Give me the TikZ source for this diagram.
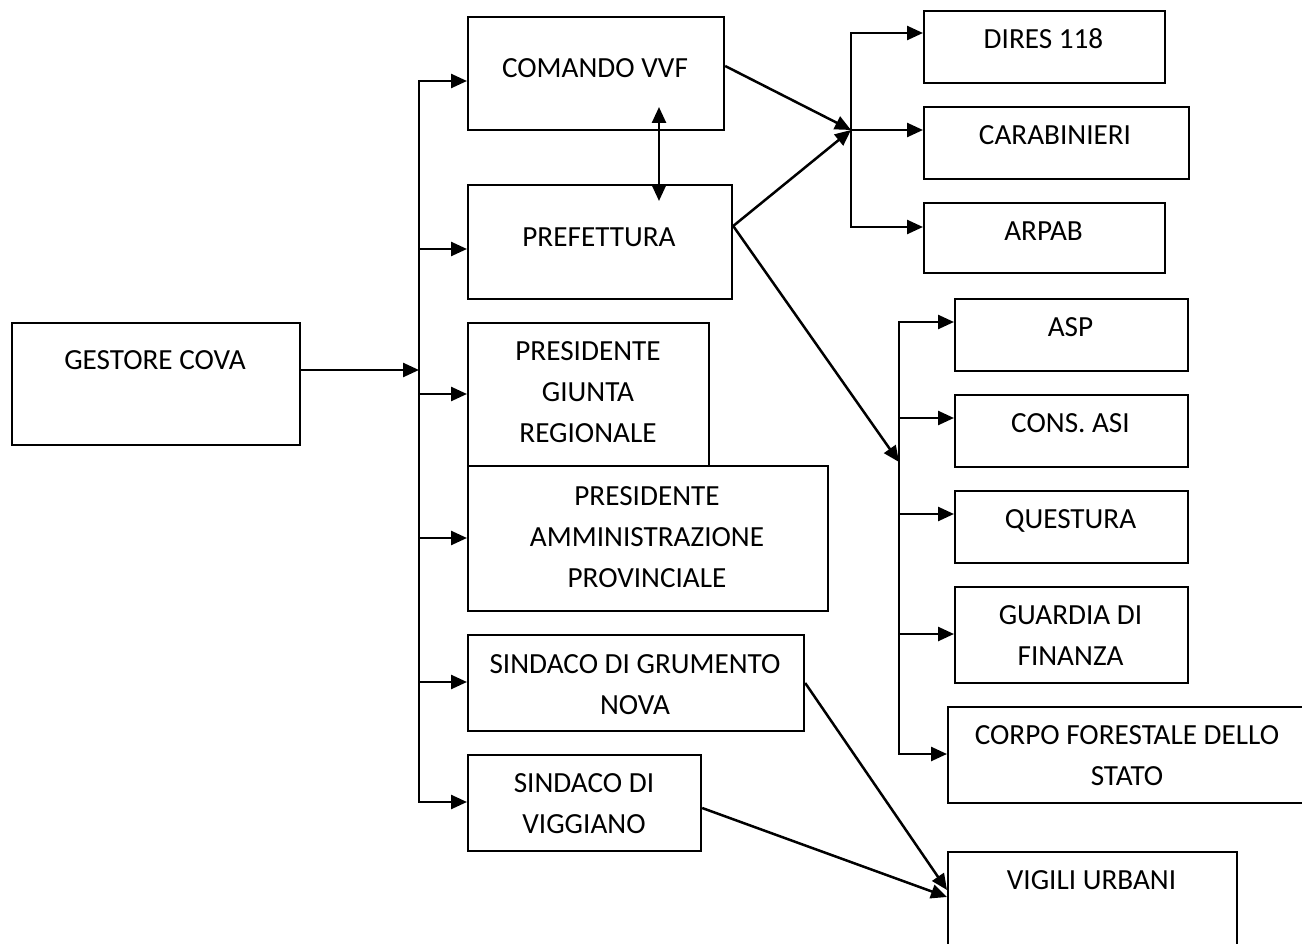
\documentclass[tikz,border=0pt]{standalone}
\usepackage{fontspec}
\setmainfont{Carlito}
\usetikzlibrary{arrows.meta,calc}
\begin{document}
\begin{tikzpicture}[x=1pt,y=-1pt,
  box/.style={draw,line width=2.2pt,inner sep=0pt,anchor=north west},
  lbl/.style={font=\fontsize{29.2pt}{40.8pt}\selectfont,align=center,inner sep=0pt,anchor=base},
  conn/.style={line width=2.5pt,line cap=rect},
  arr/.style={line width=2.5pt,-{Triangle[length=16pt,width=14pt]}},
  darr/.style={line width=2.5pt,{Triangle[length=16pt,width=14pt]}-{Triangle[length=16pt,width=14pt]}}]
\path[use as bounding box] (0,0) rectangle (1302,944);
\begin{scope}
\clip (0,0) rectangle (1302,944);
% boxes
\node[box,minimum width=288pt,minimum height=122pt] (gestore) at (11,322) {};
\node[box,minimum width=256pt,minimum height=113pt] (comando) at (467,16) {};
\node[box,minimum width=264pt,minimum height=114pt] (prefettura) at (467,184) {};
\node[box,minimum width=241pt,minimum height=143pt] (giunta) at (467,322) {};
\node[box,minimum width=360pt,minimum height=145pt] (provinciale) at (467,465) {};
\node[box,minimum width=336pt,minimum height=96pt] (grumento) at (467,634) {};
\node[box,minimum width=233pt,minimum height=96pt] (viggiano) at (467,754) {};
\node[box,minimum width=241pt,minimum height=72pt] (dires) at (923,10) {};
\node[box,minimum width=265pt,minimum height=72pt] (carabinieri) at (923,106) {};
\node[box,minimum width=241pt,minimum height=70pt] (arpab) at (923,202) {};
\node[box,minimum width=233pt,minimum height=72pt] (asp) at (954,298) {};
\node[box,minimum width=233pt,minimum height=72pt] (consasi) at (954,394) {};
\node[box,minimum width=233pt,minimum height=72pt] (questura) at (954,490) {};
\node[box,minimum width=233pt,minimum height=96pt] (guardia) at (954,586) {};
\node[box,minimum width=360pt,minimum height=96pt] (corpo) at (947,706) {};
\node[box,minimum width=289pt,minimum height=130pt] (vigili) at (947,851) {};
% labels (anchor = baseline of the last line)
\node[lbl] (gestore-t) at (155,369) {GESTORE COVA};
\node[lbl] (comando-t) at (595,78) {COMANDO VVF};
\node[lbl] (prefettura-t) at (599,247) {PREFETTURA};
\node[lbl] (giunta-t) at (588,442.5) {PRESIDENTE\\GIUNTA\\REGIONALE};
\node[lbl] (provinciale-t) at (647,587) {PRESIDENTE\\AMMINISTRAZIONE\\PROVINCIALE};
\node[lbl] (grumento-t) at (635,714) {SINDACO DI GRUMENTO\\NOVA};
\node[lbl] (viggiano-t) at (584,833) {SINDACO DI\\VIGGIANO};
\node[lbl] (dires-t) at (1043.5,49) {DIRES 118};
\node[lbl] (carabinieri-t) at (1055,145) {CARABINIERI};
\node[lbl] (arpab-t) at (1043.5,241) {ARPAB};
\node[lbl] (asp-t) at (1070.5,337) {ASP};
\node[lbl] (consasi-t) at (1070.5,432.5) {CONS. ASI};
\node[lbl] (questura-t) at (1070.5,528) {QUESTURA};
\node[lbl] (guardia-t) at (1070.5,665.7) {GUARDIA DI\\FINANZA};
\node[lbl] (corpo-t) at (1127,785) {CORPO FORESTALE DELLO\\STATO};
\node[lbl] (vigili-t) at (1091.5,889) {VIGILI URBANI};
% left bus
\coordinate (jL) at (419,370);
\coordinate (b1) at (419,81);
\coordinate (b2) at (419,249);
\coordinate (b3) at (419,394);
\coordinate (b4) at (419,538);
\coordinate (b5) at (419,682);
\coordinate (b6) at (419,802);
\draw[arr] (gestore.east |- jL) -- (jL);
\draw[conn] (b1) -- (b6);
\draw[arr] (b1) -- (b1 -| comando.west);
\draw[arr] (b2) -- (b2 -| prefettura.west);
\draw[arr] (b3) -- (b3 -| giunta.west);
\draw[arr] (b4) -- (b4 -| provinciale.west);
\draw[arr] (b5) -- (b5 -| grumento.west);
\draw[arr] (b6) -- (b6 -| viggiano.west);
% double arrow
\draw[darr] ($(comando.north west)+(192,91)$) -- ($(prefettura.north west)+(192,17)$);
% upper right junction
\coordinate (jR) at (851,130);
\coordinate (jT) at (851,33);
\coordinate (jB) at (851,227);
\draw[arr] ($(comando.north east)+(0,50)$) -- (jR);
\draw[arr] ($(prefettura.north east)+(0,42)$) -- (jR);
\draw[conn] (jT) -- (jB);
\draw[arr] (jT) -- (jT -| dires.west);
\draw[arr] (jR) -- (jR -| carabinieri.west);
\draw[arr] (jB) -- (jB -| arpab.west);
% lower right bus
\coordinate (kTip) at (899,462);
\coordinate (k1) at (899,322);
\coordinate (k2) at (899,418);
\coordinate (k3) at (899,514);
\coordinate (k4) at (899,634);
\coordinate (k5) at (899,754);
\draw[arr] ($(prefettura.north east)+(0,42)$) -- (kTip);
\draw[conn] (k1) -- (k5);
\draw[arr] (k1) -- (k1 -| asp.west);
\draw[arr] (k2) -- (k2 -| consasi.west);
\draw[arr] (k3) -- (k3 -| questura.west);
\draw[arr] (k4) -- (k4 -| guardia.west);
\draw[arr] (k5) -- (k5 -| corpo.west);
% vigili urbani
\draw[arr] ($(grumento.north east)+(0,49)$) -- ($(vigili.north west)+(0,39)$);
\draw[arr] ($(viggiano.north east)+(0,54)$) -- ($(vigili.north west)+(0,46)$);
\end{scope}
\end{tikzpicture}
\end{document}
